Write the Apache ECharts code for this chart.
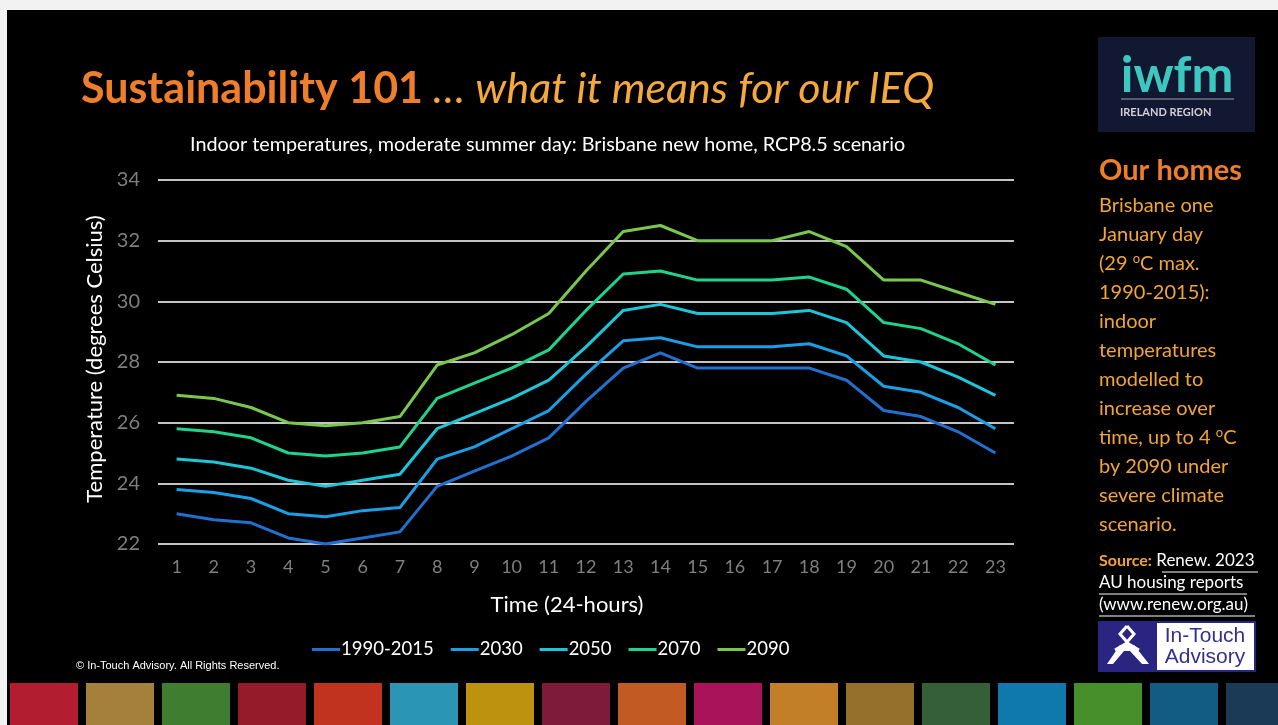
<!DOCTYPE html>
<html>
<head>
<meta charset="utf-8">
<style>
  html, body { margin: 0; padding: 0; background: #ffffff; }
  #main { width: 1278px; height: 725px; }
</style>
<script src="https://cdn.jsdelivr.net/npm/echarts@6/dist/echarts.min.js"></script>
</head>
<body>
<div id="main"></div>
<script>
// hours of the day (x axis)
var hours = ['1','2','3','4','5','6','7','8','9','10','11','12','13','14','15','16','17','18','19','20','21','22','23'];

// indoor temperature, degrees Celsius
var t1990 = [23.0,22.8,22.7,22.2,22.0,22.2,22.4,23.9,24.4,24.9,25.5,26.7,27.8,28.3,27.8,27.8,27.8,27.8,27.4,26.4,26.2,25.7,25.0];
var t2030 = [23.8,23.7,23.5,23.0,22.9,23.1,23.2,24.8,25.2,25.8,26.4,27.6,28.7,28.8,28.5,28.5,28.5,28.6,28.2,27.2,27.0,26.5,25.8];
var t2050 = [24.8,24.7,24.5,24.1,23.9,24.1,24.3,25.8,26.3,26.8,27.4,28.5,29.7,29.9,29.6,29.6,29.6,29.7,29.3,28.2,28.0,27.5,26.9];
var t2070 = [25.8,25.7,25.5,25.0,24.9,25.0,25.2,26.8,27.3,27.8,28.4,29.7,30.9,31.0,30.7,30.7,30.7,30.8,30.4,29.3,29.1,28.6,27.9];
var t2090 = [26.9,26.8,26.5,26.0,25.9,26.0,26.2,27.9,28.3,28.9,29.6,31.0,32.3,32.5,32.0,32.0,32.0,32.3,31.8,30.7,30.7,30.3,29.9];

var seriesNames = ['1990-2015','2030','2050','2070','2090'];
var seriesData = [t1990, t2030, t2050, t2070, t2090];
var lineColors = ['#2170d0','#1a9fe6','#1cc6d8','#20d28e','#7ac74f'];

// y axis ticks
var yMin = 22, yMax = 34, yStep = 2;

// coloured squares along the bottom of the slide
var tileColors = ['#b21d30','#a5803a','#3f7d31','#951a2a','#c2331f','#2a95b5','#bd920e','#7e1a3a','#c25a24',
                  '#a8135a','#c37f27','#95702a','#355f38','#0f78ad','#478f2b','#125c84','#1b3a56'];

var FONT = 'Lato, "Open Sans", sans-serif';

var myChart = echarts.init(document.getElementById('main'));

var graphics = [];
// white frame at top / left, black slide
graphics.push({ type: 'rect', left: 0, top: 0, shape: { width: 1278, height: 10 }, style: { fill: '#f2f2f2' }, z: -10 });
graphics.push({ type: 'rect', left: 0, top: 0, shape: { width: 7, height: 725 }, style: { fill: '#f2f2f2' }, z: -10 });

tileColors.forEach(function (c, i) {
    graphics.push({
        type: 'rect',
        shape: { x: 10 + i * 76, y: 683, width: 68, height: 42 },
        style: { fill: c }
    });
});

// iwfm logo
graphics.push({ type: 'rect', shape: { x: 1098, y: 37, width: 157, height: 95 }, style: { fill: '#121831' } });
graphics.push({ type: 'text', x: 1177, y: 76, style: { text: 'iwfm', fill: '#3dc8bf', font: 'bold 50px ' + FONT, align: 'center', verticalAlign: 'middle' } });
graphics.push({ type: 'line', shape: { x1: 1121, y1: 99, x2: 1234, y2: 99 }, style: { stroke: '#9aa0b0', lineWidth: 1 } });
graphics.push({ type: 'text', x: 1120, y: 112, style: { text: 'IRELAND REGION', fill: '#d0d0d8', font: 'bold 11px ' + FONT, verticalAlign: 'middle' } });

// right side text
graphics.push({ type: 'text', x: 1099, y: 171, style: { text: 'Our homes', fill: '#ee7d2c', font: 'bold 29px ' + FONT, verticalAlign: 'middle' } });
graphics.push({
    type: 'text', x: 1099, y: 191,
    style: {
        text: 'Brisbane one\nJanuary day\n(29 {s|o}C max.\n1990-2015):\nindoor\ntemperatures\nmodelled to\nincrease over\ntime, up to 4 {s|o}C\nby 2090 under\nsevere climate\nscenario.',
        fill: '#f2a437', font: '20px ' + FONT, lineHeight: 29,
        rich: { s: { fontSize: 13, fill: '#f2a437', fontFamily: 'Lato', padding: [0, 0, 9, 0], lineHeight: 29 } }
    }
});

// source
graphics.push({
    type: 'text', x: 1099, y: 561,
    style: { text: '{b|Source:} Renew. 2023', fill: '#ffffff', font: '17px ' + FONT, verticalAlign: 'middle',
             rich: { b: { fill: '#f2a437', fontWeight: 'bold', fontSize: 16, fontFamily: 'Lato' } } }
});
graphics.push({ type: 'text', x: 1099, y: 583, style: { text: 'AU housing reports', fill: '#ffffff', font: '17px ' + FONT, verticalAlign: 'middle' } });
graphics.push({ type: 'text', x: 1099, y: 605, style: { text: '(www.renew.org.au)', fill: '#ffffff', font: '17px ' + FONT, verticalAlign: 'middle' } });
graphics.push({ type: 'line', shape: { x1: 1162, y1: 572, x2: 1258, y2: 572 }, style: { stroke: '#ffffff', lineWidth: 1 } });
graphics.push({ type: 'line', shape: { x1: 1099, y1: 594, x2: 1247, y2: 594 }, style: { stroke: '#ffffff', lineWidth: 1 } });
graphics.push({ type: 'line', shape: { x1: 1099, y1: 616, x2: 1255, y2: 616 }, style: { stroke: '#ffffff', lineWidth: 1 } });

// In-Touch Advisory logo
graphics.push({ type: 'rect', shape: { x: 1098, y: 621, width: 158, height: 51 }, style: { fill: '#2a2580' } });
graphics.push({ type: 'rect', shape: { x: 1157, y: 623, width: 97, height: 47 }, style: { fill: '#ffffff' } });
graphics.push({ type: 'polyline', shape: { points: [[1127,626],[1134,634],[1127,642],[1120,634],[1127,626]] }, style: { stroke: '#ffffff', lineWidth: 3, fill: null } });
graphics.push({ type: 'polygon', shape: { points: [[1107,664],[1120,645],[1134,645],[1149,664],[1142,664],[1130,651],[1124,651],[1113,664]] }, style: { fill: '#ffffff' } });
graphics.push({ type: 'polyline', shape: { points: [[1115,650],[1127,643],[1139,650]] }, style: { stroke: '#ffffff', lineWidth: 3 } });
graphics.push({ type: 'text', x: 1205, y: 647, style: { text: 'In-Touch\nAdvisory', fill: '#35308f', font: '21px "Liberation Sans", Arial, sans-serif', lineHeight: 21, align: 'center', verticalAlign: 'middle' } });

// copyright
graphics.push({ type: 'text', x: 76, y: 666, style: { text: '\u00a9 In-Touch Advisory. All Rights Reserved.', fill: '#ffffff', font: '11px "Liberation Sans", Arial, sans-serif', verticalAlign: 'middle' } });

var series = seriesNames.map(function (name, i) {
    return {
        name: name,
        type: 'line',
        data: seriesData[i],
        symbol: 'none',
        smooth: false,
        lineStyle: { color: lineColors[i], width: 3 },
        itemStyle: { color: lineColors[i] },
        z: 3
    };
});

var option = {
    backgroundColor: '#000000',
    animation: false,
    textStyle: { fontFamily: FONT },
    title: [{
        text: '{a|Sustainability 101}{b| \u2026 what it means for our IEQ}',
        left: 76, top: 63,
        textStyle: {
            rich: {
                a: { color: '#ee7d2c', fontSize: 43, fontWeight: 'bold', fontFamily: 'Lato' },
                b: { color: '#f5a83c', fontSize: 43, fontWeight: 'normal', fontStyle: 'italic', fontFamily: 'Lato' }
            }
        }
    }, {
        text: 'Indoor temperatures, moderate summer day: Brisbane new home, RCP8.5 scenario',
        left: 185, top: 130,
        textStyle: { color: '#ffffff', fontSize: 19.8, fontWeight: 'normal', fontFamily: FONT }
    }],
    legend: {
        data: seriesNames,
        left: 307, top: 635,
        icon: 'rect',
        itemWidth: 28, itemHeight: 3,
        itemGap: 17,
        textStyle: { color: '#ffffff', fontSize: 18.5, fontFamily: FONT, padding: [0, 0, 0, -4] }
    },
    grid: { left: 158, right: 264, top: 180, bottom: 181, containLabel: false },
    xAxis: {
        type: 'category',
        data: hours,
        boundaryGap: true,
        axisLine: { show: false },
        axisTick: { show: false },
        axisLabel: { color: '#7f7f7f', fontSize: 18, margin: 14 },
        name: 'Time (24-hours)',
        nameLocation: 'middle',
        nameGap: 50,
        nameTextStyle: { color: '#ffffff', fontSize: 22, padding: [0, 38, 0, 0] }
    },
    yAxis: {
        type: 'value',
        min: yMin, max: yMax, interval: yStep,
        axisLine: { show: false },
        axisTick: { show: false },
        axisLabel: { color: '#7f7f7f', fontSize: 20, margin: 18 },
        splitLine: { lineStyle: { color: '#c4c4c4', width: 2 } },
        name: 'Temperature (degrees Celsius)',
        nameLocation: 'middle',
        nameGap: 46,
        nameTextStyle: { color: '#ffffff', fontSize: 22, padding: [0, 0, 0, 6] }
    },
    graphic: graphics,
    series: series
};

myChart.setOption(option);
</script>
</body>
</html>
